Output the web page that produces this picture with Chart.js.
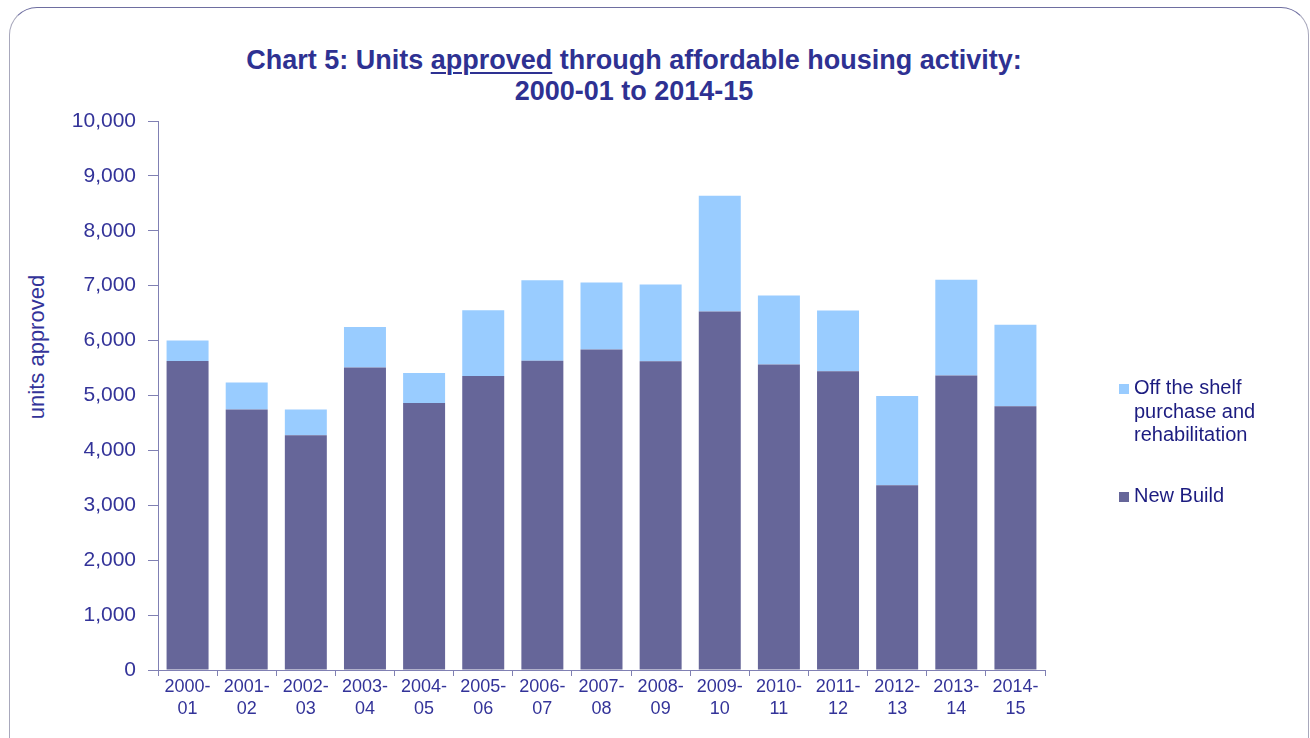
<!DOCTYPE html>
<html>
<head>
<meta charset="utf-8">
<script src="https://cdn.jsdelivr.net/npm/chart.js@4"></script>
<style>
  html, body { margin: 0; padding: 0; background: #fff; }
  body { width: 1310px; height: 738px; position: relative; overflow: hidden; font-family: "Liberation Sans", Arial, sans-serif; }
  #frame { position: absolute; left: 9px; top: 7px; width: 1298px; height: 780px; border: 1px solid #a8a8bc; border-top-color: #6e6ea0; border-radius: 28px; }
  #title { position: absolute; left: 0; top: 45px; width: 1268px; text-align: center; font-weight: bold; font-size: 27px; line-height: 31px; color: #2e3192; }
  #title u { text-decoration-thickness: 2px; text-underline-offset: 3px; }
  #ytitle { position: absolute; left: 37px; top: 347px; transform: translate(-50%, -50%) rotate(-90deg); white-space: nowrap; font-size: 22px; color: #333399; }
  canvas { position: absolute; left: 0; top: 0; }
  .leg { position: absolute; left: 1119px; width: 170px; font-size: 20px; line-height: 23.5px; color: #1c1c80; }
  .leg i { position: absolute; left: 0; top: 8px; width: 10px; height: 10px; }
  .leg span { display: block; margin-left: 15px; width: 135px; }
</style>
</head>
<body>
<div id="frame"></div>
<div id="title">Chart 5: Units <u>approved</u> through affordable housing activity:<br>2000-01 to 2014-15</div>
<div id="ytitle">units approved</div>
<canvas id="chart" width="1310" height="738"></canvas>
<script>
// periods on the x axis
const periods = ['2000-01', '2001-02', '2002-03', '2003-04', '2004-05', '2005-06', '2006-07', '2007-08',
                 '2008-09', '2009-10', '2010-11', '2011-12', '2012-13', '2013-14', '2014-15'];

// units approved
const newBuild = [5630, 4745, 4275, 5510, 4865, 5355, 5635, 5840, 5625, 6530, 5565, 5440, 3365, 5365, 4805];
const offShelf = [370, 490, 470, 740, 545, 1200, 1465, 1220, 1395, 2110, 1255, 1110, 1625, 1745, 1485];

const seriesNames = ['New Build', 'Off the shelf purchase and rehabilitation'];
const seriesColors = ['#666699', '#99ccff'];

const yMin = 0, yMax = 10000, yStep = 1000;

const axisColor = '#8080b3';
const tickColor = '#333399';

// two-line tick labels, e.g. "2000-" / "01"
const xLabels = periods.map(p => [p.slice(0, 5), p.slice(5)]);

new Chart(document.getElementById('chart'), {
    type: 'bar',
    data: {
        labels: xLabels,
        datasets: [
            { label: seriesNames[0], data: newBuild, backgroundColor: seriesColors[0] },
            { label: seriesNames[1], data: offShelf, backgroundColor: seriesColors[1] }
        ]
    },
    options: {
        responsive: false,
        animation: false,
        layout: { padding: { top: 121, right: 265, bottom: 0, left: 0 } },
        datasets: { bar: { categoryPercentage: 1, barPercentage: 0.71 } },
        plugins: { legend: { display: false }, title: { display: false }, tooltip: { enabled: false } },
        scales: {
            x: {
                stacked: true,
                grid: { display: true, drawOnChartArea: false, drawTicks: true, tickLength: 6, color: axisColor, offset: true },
                border: { color: axisColor },
                ticks: { color: tickColor, font: { family: 'Liberation Sans', size: 18, lineHeight: 1.17 }, padding: 1, maxRotation: 0, autoSkip: false },
                afterFit(s) { s.height = 68; }
            },
            y: {
                stacked: true,
                min: yMin,
                max: yMax,
                grid: { drawOnChartArea: false, drawTicks: true, tickLength: 10, color: axisColor },
                border: { color: axisColor },
                ticks: {
                    stepSize: yStep,
                    color: tickColor,
                    padding: 12,
                    font: { family: 'Liberation Sans', size: 21 },
                    callback: v => v.toLocaleString('en-US')
                },
                afterFit(s) { s.width = 158; }
            }
        }
    }
});

// legend on the right, top entry is the upper series
const legendTops = [484, 376];
seriesNames.forEach((name, i) => {
    const d = document.createElement('div');
    d.className = 'leg';
    d.style.top = legendTops[i] + 'px';
    d.innerHTML = '<i style="background:' + seriesColors[i] + '"></i><span>' + name + '</span>';
    document.body.appendChild(d);
});
</script>
</body>
</html>
